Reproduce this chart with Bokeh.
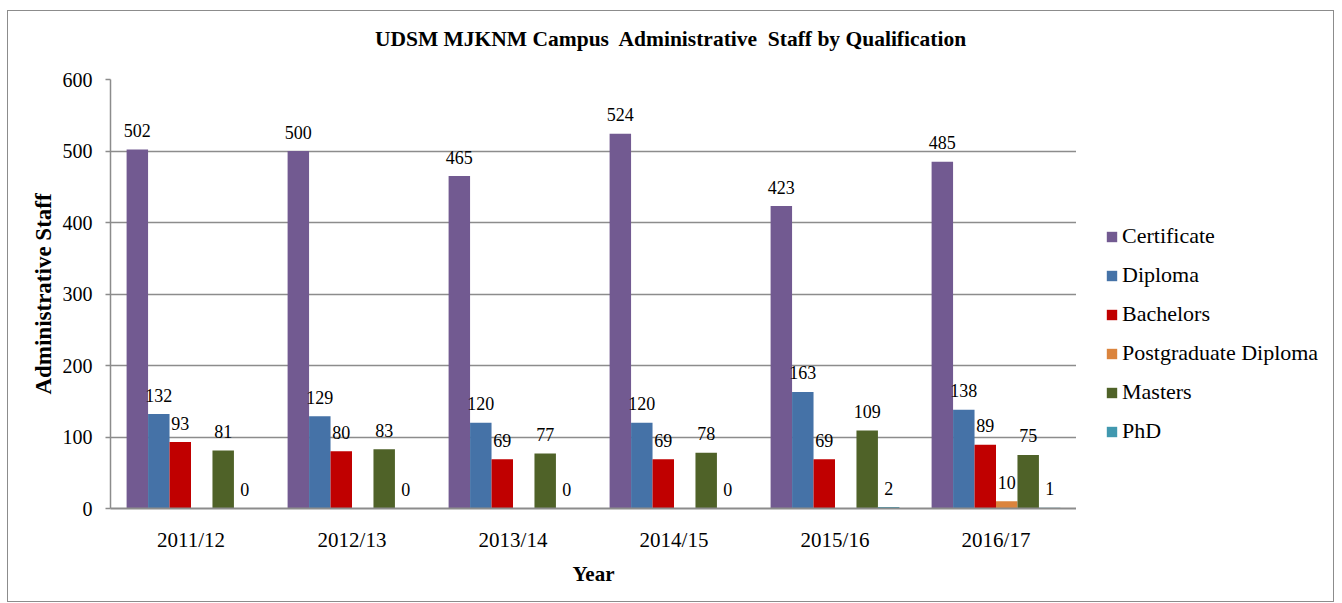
from bokeh.plotting import figure
from bokeh.layouts import row, column
from bokeh.models import (ColumnDataSource, Range1d, FactorRange, Legend, LegendItem,
                          FixedTicker, Div)
from bokeh.transform import dodge
from bokeh.core.properties import value
from bokeh.embed import file_html
from bokeh.resources import INLINE

# ---- data ----
years = ["2011/12", "2012/13", "2013/14", "2014/15", "2015/16", "2016/17"]
certificate = [502, 500, 465, 524, 423, 485]
diploma = [132, 129, 120, 120, 163, 138]
bachelors = [93, 80, 69, 69, 69, 89]
postgrad_diploma = [None, None, None, None, None, 10]
masters = [81, 83, 77, 78, 109, 75]
phd = [0, 0, 0, 0, 2, 1]
series_names = ["Certificate", "Diploma", "Bachelors", "Postgraduate Diploma", "Masters", "PhD"]
series_values = [certificate, diploma, bachelors, postgrad_diploma, masters, phd]
colors = ["#725A91", "#4572A7", "#C00000", "#DB843D", "#4F6228", "#4198AF"]
y_ticks = [0, 100, 200, 300, 400, 500, 600]
title_text = "UDSM MJKNM Campus&nbsp; Administrative&nbsp; Staff by Qualification"

FONT = "Liberation Serif"
GRID = "#8c8c8c"
TITLE_H = 57

title = Div(text=title_text, width=1325, height=TITLE_H, margin=0,
            styles={"font-family": FONT, "font-size": "21.5px", "font-weight": "bold",
                    "text-align": "center", "line-height": f"{TITLE_H}px", "color": "black"})

p = figure(x_range=FactorRange(*years, range_padding=0), y_range=Range1d(0, 600),
           width=1068, height=590 - TITLE_H, output_backend="svg", toolbar_location=None,
           min_border_left=102, min_border_right=0, min_border_top=68 - TITLE_H,
           min_border_bottom=93,
           background_fill_color="white", border_fill_color="white", outline_line_color=None)

n = len(series_names)
bw = 0.8 / n
renderers = []
for i, (name, vals, col) in enumerate(zip(series_names, series_values, colors)):
    off = (i - (n - 1) / 2) * bw
    xs = [y for y, v in zip(years, vals) if v is not None]
    ys = [v for v in vals if v is not None]
    src = ColumnDataSource(dict(x=xs, top=ys, lab=[str(v) for v in ys]))
    r = p.vbar(x=dodge("x", off, range=p.x_range), top="top", width=bw, source=src,
               fill_color=col, line_color=None)
    renderers.append(r)
    p.text(x=dodge("x", off, range=p.x_range), y="top", text="lab", source=src,
           text_font=value(FONT), text_font_size="18px", text_color="black",
           text_align="center", text_baseline="alphabetic", y_offset=-19)

# y axis
p.yaxis.ticker = FixedTicker(ticks=y_ticks)
p.yaxis.axis_label = "Administrative Staff"
p.yaxis.axis_label_text_font = FONT
p.yaxis.axis_label_text_font_size = "23px"
p.yaxis.axis_label_text_font_style = "bold"
p.yaxis.axis_label_text_color = "black"
p.yaxis.axis_label_standoff = 4
p.yaxis.major_label_text_font = FONT
p.yaxis.major_label_text_font_size = "20px"
p.yaxis.major_label_text_color = "black"
p.yaxis.major_label_standoff = 13
p.yaxis.axis_line_color = GRID
p.yaxis.axis_line_width = 1.5
p.yaxis.major_tick_line_color = GRID
p.yaxis.major_tick_line_width = 1.5
p.yaxis.major_tick_out = 5
p.yaxis.major_tick_in = 0
p.yaxis.minor_tick_line_color = None

# x axis
p.xaxis.axis_label = "Year"
p.xaxis.axis_label_text_font = FONT
p.xaxis.axis_label_text_font_size = "21px"
p.xaxis.axis_label_text_font_style = "bold"
p.xaxis.axis_label_text_color = "black"
p.xaxis.axis_label_standoff = 7
p.xaxis.major_label_text_font = FONT
p.xaxis.major_label_text_font_size = "21px"
p.xaxis.major_label_text_color = "black"
p.xaxis.major_label_standoff = 13
p.xaxis.axis_line_color = GRID
p.xaxis.axis_line_width = 2
p.xaxis.major_tick_line_color = None
p.xaxis.minor_tick_line_color = None

p.xgrid.grid_line_color = None
p.ygrid.grid_line_color = GRID
p.ygrid.grid_line_width = 1.5

# ---- legend panel (separate figure to the right) ----
lg = figure(width=257, height=590 - TITLE_H, output_backend="svg", toolbar_location=None,
            x_range=Range1d(0, 1), y_range=Range1d(0, 1),
            x_axis_location=None, y_axis_location=None,
            min_border=0, outline_line_color=None,
            background_fill_color="white", border_fill_color="white")
lg.grid.grid_line_color = None
leg_renderers = []
for name, col in zip(series_names, colors):
    # zero-size key glyph: only its legend swatch is visible
    rr = lg.vbar(x=[0], top=[0], bottom=[0], width=0, fill_color=col, line_color=None)
    leg_renderers.append(rr)

legend = Legend(items=[LegendItem(label=nm, renderers=[r]) for nm, r in zip(series_names, leg_renderers)],
                location=(29, 64), orientation="vertical", border_line_color=None,
                background_fill_alpha=0, glyph_width=13, glyph_height=13, label_height=25,
                spacing=13, padding=0, margin=0, label_standoff=4,
                label_text_font=FONT, label_text_font_size="22px", label_text_color="black",
                label_text_baseline="middle")
lg.add_layout(legend)

layout = column(title, row(p, lg, spacing=0), spacing=0)
layout.styles = {"border": "1.5px solid #8c8c8c", "margin": "10px 0px 0px 7px"}

open("out.html", "w").write(file_html(layout, INLINE))
